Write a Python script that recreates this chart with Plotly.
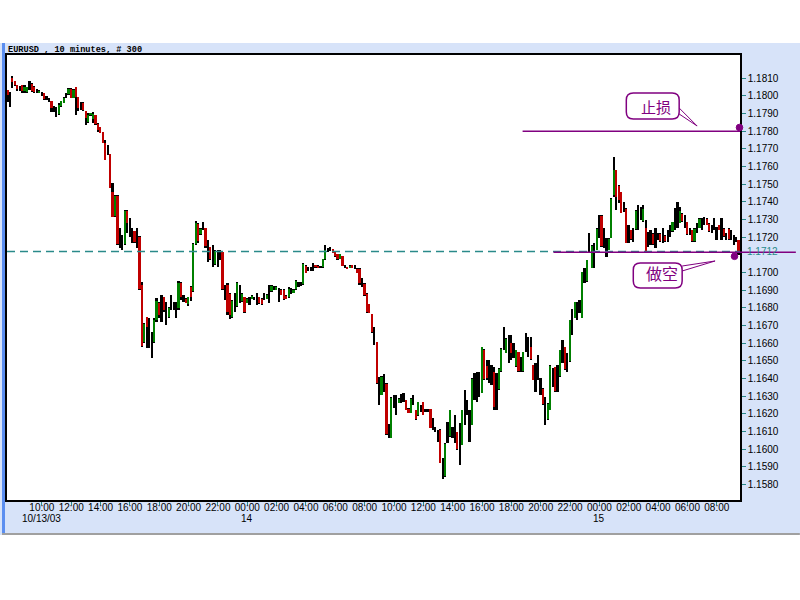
import plotly.graph_objects as go
import pandas as pd

# ---------------- data (EURUSD, 10-minute bars, 300 bars) ----------------
opens = [
    1.18034,1.17975,1.18100,1.18085,1.18060,1.18045,1.18060,1.18030,1.18020,1.18060,
    1.18070,1.18050,1.18025,1.18020,1.18010,1.18015,1.17990,1.17975,1.17974,1.17930,
    1.17900,1.17900,1.17945,1.17960,1.18000,1.18010,1.18040,1.17990,1.18050,1.17996,
    1.17940,1.17960,1.17917,1.17850,1.17890,1.17870,1.17890,1.17840,1.17825,1.17795,
    1.17732,1.17680,1.17670,1.17459,1.17320,1.17435,1.17180,1.17160,1.17160,1.17350,
    1.17250,1.17200,1.17235,1.17180,1.17204,1.16930,1.16610,1.16750,1.16650,1.16600,
    1.16610,1.16730,1.16830,1.16780,1.16860,1.16760,1.16750,1.16820,1.16810,1.16790,
    1.16800,1.16940,1.16855,1.16850,1.16820,1.16920,1.16895,1.17160,1.17275,1.17220,
    1.17260,1.17250,1.17120,1.17145,1.17090,1.17050,1.17080,1.17110,1.17115,1.16890,
    1.16930,1.16880,1.16750,1.16830,1.16810,1.16880,1.16840,1.16860,1.16830,1.16840,
    1.16850,1.16855,1.16850,1.16860,1.16850,1.16860,1.16850,1.16880,1.16895,1.16910,
    1.16903,1.16880,1.16903,1.16900,1.16870,1.16860,1.16890,1.16885,1.16905,1.16930,
    1.16935,1.16935,1.17040,1.17020,1.17025,1.17030,1.17042,1.17040,1.17030,1.17030,
    1.17075,1.17130,1.17135,1.17132,1.17120,1.17105,1.17078,1.17092,1.17035,1.17033,
    1.17026,1.17041,1.17030,1.17023,1.17020,1.16940,1.16937,1.16880,1.16820,1.16764,
    1.16640,1.16605,1.16320,1.16310,1.16370,1.16370,1.16100,1.16065,1.16270,1.16250,
    1.16262,1.16280,1.16290,1.16277,1.16230,1.16207,1.16280,1.16220,1.16193,1.16230,
    1.16268,1.16220,1.16220,1.16226,1.16140,1.16114,1.16070,1.16112,1.15890,1.15848,
    1.16090,1.16074,1.16090,1.16110,1.16098,1.16020,1.16027,1.16230,1.16240,1.16120,
    1.16140,1.16350,1.16350,1.16370,1.16320,1.16564,1.16470,1.16440,1.16420,1.16439,
    1.16300,1.16340,1.16442,1.16620,1.16546,1.16560,1.16600,1.16550,1.16470,1.16550,
    1.16480,1.16442,1.16600,1.16580,1.16580,1.16475,1.16400,1.16460,1.16350,1.16343,
    1.16200,1.16170,1.16225,1.16400,1.16465,1.16400,1.16414,1.16550,1.16578,1.16490,
    1.16500,1.16720,1.16744,1.16780,1.16810,1.16745,1.16980,1.16952,1.17160,1.17027,
    1.17090,1.17130,1.17260,1.17323,1.17190,1.17140,1.17130,1.17197,1.17440,1.17580,
    1.17490,1.17455,1.17370,1.17360,1.17210,1.17240,1.17210,1.17245,1.17300,1.17330,
    1.17292,1.17250,1.17180,1.17200,1.17220,1.17190,1.17200,1.17220,1.17200,1.17210,
    1.17210,1.17230,1.17235,1.17300,1.17330,1.17282,1.17334,1.17290,1.17287,1.17230,
    1.17240,1.17178,1.17250,1.17254,1.17270,1.17290,1.17305,1.17277,1.17250,1.17270,
    1.17220,1.17268,1.17240,1.17249,1.17200,1.17249,1.17210,1.17180,1.17190,1.17183,
]
highs = [
    1.18034,1.18025,1.18113,1.18087,1.18062,1.18057,1.18062,1.18062,1.18053,1.18087,
    1.18072,1.18057,1.18038,1.18034,1.18025,1.18015,1.18000,1.17987,1.17974,1.17944,
    1.17940,1.17959,1.17974,1.17996,1.18015,1.18044,1.18044,1.18038,1.18053,1.17996,
    1.17968,1.17968,1.17917,1.17902,1.17906,1.17912,1.17893,1.17845,1.17827,1.17798,
    1.17751,1.17723,1.17672,1.17506,1.17440,1.17440,1.17251,1.17213,1.17355,1.17355,
    1.17308,1.17251,1.17238,1.17251,1.17210,1.16949,1.16713,1.16751,1.16741,1.16666,
    1.16741,1.16854,1.16836,1.16873,1.16864,1.16836,1.16807,1.16873,1.16836,1.16836,
    1.16953,1.16949,1.16873,1.16854,1.16864,1.16924,1.17166,1.17294,1.17279,1.17251,
    1.17289,1.17251,1.17185,1.17147,1.17156,1.17128,1.17128,1.17128,1.17119,1.16930,
    1.16939,1.16883,1.16845,1.16883,1.16949,1.16930,1.16883,1.16864,1.16854,1.16864,
    1.16873,1.16864,1.16887,1.16864,1.16854,1.16883,1.16877,1.16930,1.16930,1.16924,
    1.16924,1.16911,1.16905,1.16905,1.16873,1.16917,1.16913,1.16905,1.16958,1.16947,
    1.16949,1.17053,1.17043,1.17030,1.17034,1.17053,1.17043,1.17043,1.17034,1.17077,
    1.17156,1.17138,1.17143,1.17134,1.17124,1.17106,1.17106,1.17094,1.17043,1.17034,
    1.17043,1.17043,1.17043,1.17024,1.17024,1.16968,1.16939,1.16883,1.16823,1.16766,
    1.16694,1.16609,1.16411,1.16415,1.16426,1.16373,1.16141,1.16298,1.16307,1.16307,
    1.16289,1.16313,1.16317,1.16279,1.16232,1.16289,1.16307,1.16222,1.16270,1.16251,
    1.16270,1.16228,1.16228,1.16228,1.16175,1.16128,1.16109,1.16115,1.15949,1.16034,
    1.16156,1.16222,1.16128,1.16194,1.16100,1.16147,1.16222,1.16336,1.16279,1.16222,
    1.16402,1.16430,1.16439,1.16439,1.16581,1.16566,1.16505,1.16505,1.16477,1.16468,
    1.16430,1.16458,1.16571,1.16694,1.16628,1.16647,1.16647,1.16600,1.16562,1.16553,
    1.16524,1.16553,1.16656,1.16637,1.16637,1.16477,1.16486,1.16534,1.16402,1.16345,
    1.16298,1.16260,1.16477,1.16458,1.16468,1.16477,1.16562,1.16619,1.16581,1.16543,
    1.16732,1.16792,1.16836,1.16836,1.16845,1.17006,1.17024,1.17072,1.17222,1.17156,
    1.17166,1.17251,1.17326,1.17326,1.17251,1.17194,1.17194,1.17421,1.17656,1.17581,
    1.17496,1.17458,1.17402,1.17364,1.17270,1.17242,1.17251,1.17355,1.17383,1.17373,
    1.17383,1.17298,1.17232,1.17242,1.17223,1.17251,1.17223,1.17223,1.17251,1.17213,
    1.17242,1.17270,1.17289,1.17364,1.17402,1.17373,1.17336,1.17326,1.17289,1.17251,
    1.17242,1.17251,1.17279,1.17307,1.17307,1.17317,1.17307,1.17279,1.17270,1.17307,
    1.17261,1.17270,1.17307,1.17251,1.17223,1.17251,1.17242,1.17213,1.17204,1.17185,
]
lows = [
    1.17968,1.17940,1.18044,1.18057,1.18030,1.18030,1.18019,1.18019,1.18015,1.18034,
    1.18025,1.18019,1.18015,1.18019,1.18000,1.17978,1.17978,1.17968,1.17912,1.17912,
    1.17879,1.17893,1.17940,1.17959,1.17987,1.18006,1.17987,1.17987,1.17893,1.17917,
    1.17921,1.17917,1.17836,1.17845,1.17887,1.17845,1.17836,1.17798,1.17789,1.17732,
    1.17638,1.17666,1.17477,1.17317,1.17317,1.17157,1.17138,1.17128,1.17157,1.17223,
    1.17204,1.17166,1.17170,1.17138,1.16902,1.16581,1.16600,1.16572,1.16572,1.16515,
    1.16600,1.16722,1.16741,1.16722,1.16779,1.16703,1.16741,1.16788,1.16788,1.16741,
    1.16788,1.16845,1.16836,1.16826,1.16811,1.16839,1.16892,1.17156,1.17166,1.17213,
    1.17241,1.17137,1.17062,1.17072,1.17034,1.17043,1.17034,1.17072,1.16902,1.16845,
    1.16760,1.16736,1.16741,1.16779,1.16807,1.16826,1.16836,1.16770,1.16826,1.16817,
    1.16849,1.16845,1.16817,1.16822,1.16817,1.16845,1.16849,1.16826,1.16892,1.16902,
    1.16902,1.16836,1.16873,1.16845,1.16849,1.16854,1.16879,1.16883,1.16902,1.16921,
    1.16924,1.16930,1.16996,1.17011,1.17011,1.17011,1.17028,1.17028,1.17028,1.17028,
    1.17072,1.17119,1.17124,1.17109,1.17090,1.17072,1.17075,1.17038,1.17028,1.17021,
    1.17024,1.17024,1.17019,1.16996,1.16930,1.16921,1.16870,1.16770,1.16770,1.16660,
    1.16590,1.16369,1.16251,1.16307,1.16326,1.16081,1.16062,1.16062,1.16232,1.16194,
    1.16260,1.16260,1.16270,1.16222,1.16204,1.16204,1.16251,1.16166,1.16191,1.16213,
    1.16194,1.16213,1.16213,1.16119,1.16109,1.16100,1.16043,1.15920,1.15830,1.15845,
    1.16034,1.16071,1.16062,1.16034,1.15996,1.15911,1.16024,1.16138,1.16194,1.16043,
    1.16138,1.16279,1.16270,1.16298,1.16320,1.16392,1.16392,1.16373,1.16364,1.16222,
    1.16222,1.16336,1.16439,1.16562,1.16543,1.16486,1.16505,1.16515,1.16468,1.16439,
    1.16439,1.16439,1.16553,1.16524,1.16505,1.16392,1.16326,1.16392,1.16307,1.16251,
    1.16137,1.16166,1.16222,1.16354,1.16326,1.16326,1.16411,1.16486,1.16449,1.16439,
    1.16496,1.16647,1.16741,1.16732,1.16770,1.16741,1.16939,1.16949,1.17109,1.17024,
    1.17024,1.17128,1.17194,1.17147,1.17138,1.17090,1.17128,1.17194,1.17430,1.17355,
    1.17392,1.17336,1.17345,1.17166,1.17166,1.17185,1.17175,1.17242,1.17242,1.17298,
    1.17289,1.17119,1.17147,1.17157,1.17157,1.17138,1.17185,1.17175,1.17166,1.17175,
    1.17175,1.17204,1.17232,1.17242,1.17251,1.17279,1.17289,1.17251,1.17213,1.17213,
    1.17175,1.17175,1.17223,1.17251,1.17242,1.17270,1.17270,1.17232,1.17223,1.17242,
    1.17185,1.17242,1.17185,1.17204,1.17185,1.17185,1.17185,1.17157,1.17175,1.17100,
]
closes = [
    1.18008,1.17975,1.18080,1.18060,1.18040,1.18045,1.18030,1.18050,1.18050,1.18060,
    1.18030,1.18020,1.18025,1.18030,1.18010,1.17985,1.17990,1.17975,1.17930,1.17930,
    1.17900,1.17950,1.17970,1.17990,1.18000,1.18040,1.17990,1.18035,1.17996,1.17930,
    1.17940,1.17920,1.17874,1.17895,1.17903,1.17900,1.17840,1.17805,1.17790,1.17735,
    1.17640,1.17680,1.17480,1.17317,1.17435,1.17160,1.17180,1.17160,1.17350,1.17280,
    1.17250,1.17200,1.17175,1.17180,1.16905,1.16585,1.16710,1.16694,1.16650,1.16600,
    1.16730,1.16840,1.16760,1.16780,1.16790,1.16760,1.16800,1.16820,1.16810,1.16790,
    1.16940,1.16860,1.16855,1.16830,1.16860,1.16860,1.17160,1.17280,1.17180,1.17245,
    1.17260,1.17150,1.17120,1.17080,1.17090,1.17120,1.17080,1.17110,1.16910,1.16890,
    1.16780,1.16760,1.16840,1.16830,1.16940,1.16880,1.16880,1.16780,1.16850,1.16840,
    1.16870,1.16855,1.16850,1.16830,1.16820,1.16860,1.16875,1.16880,1.16925,1.16910,
    1.16920,1.16880,1.16875,1.16850,1.16850,1.16910,1.16890,1.16903,1.16950,1.16930,
    1.16935,1.17050,1.17000,1.17020,1.17025,1.17030,1.17030,1.17030,1.17030,1.17075,
    1.17130,1.17130,1.17135,1.17110,1.17095,1.17075,1.17103,1.17040,1.17035,1.17023,
    1.17040,1.17026,1.17030,1.16998,1.16940,1.16940,1.16873,1.16775,1.16772,1.16663,
    1.16640,1.16375,1.16320,1.16410,1.16370,1.16085,1.16100,1.16290,1.16270,1.16250,
    1.16287,1.16280,1.16290,1.16225,1.16206,1.16285,1.16280,1.16170,1.16268,1.16230,
    1.16196,1.16220,1.16220,1.16122,1.16140,1.16114,1.16070,1.15923,1.15890,1.16030,
    1.16090,1.16220,1.16090,1.16110,1.16000,1.16020,1.16220,1.16230,1.16240,1.16120,
    1.16400,1.16350,1.16350,1.16370,1.16578,1.16400,1.16405,1.16440,1.16420,1.16240,
    1.16300,1.16455,1.16568,1.16620,1.16625,1.16560,1.16543,1.16550,1.16560,1.16442,
    1.16480,1.16550,1.16600,1.16580,1.16510,1.16395,1.16400,1.16460,1.16350,1.16254,
    1.16200,1.16257,1.16474,1.16400,1.16330,1.16400,1.16560,1.16550,1.16452,1.16490,
    1.16730,1.16720,1.16833,1.16780,1.16810,1.17003,1.16980,1.17070,1.17160,1.17153,
    1.17090,1.17248,1.17260,1.17150,1.17190,1.17140,1.17192,1.17418,1.17580,1.17430,
    1.17410,1.17340,1.17370,1.17170,1.17210,1.17188,1.17210,1.17350,1.17300,1.17330,
    1.17360,1.17122,1.17180,1.17200,1.17160,1.17190,1.17200,1.17180,1.17200,1.17180,
    1.17210,1.17230,1.17286,1.17300,1.17330,1.17350,1.17292,1.17290,1.17216,1.17230,
    1.17180,1.17248,1.17250,1.17304,1.17270,1.17290,1.17272,1.17234,1.17250,1.17270,
    1.17220,1.17244,1.17240,1.17206,1.17200,1.17188,1.17210,1.17180,1.17190,1.17120,
]
bar_times = pd.date_range("2003-10-13 07:40", periods=len(opens), freq="10min")

y_tick_values = [1.1580, 1.1590, 1.1600, 1.1610, 1.1620, 1.1630, 1.1640, 1.1650,
                 1.1660, 1.1670, 1.1680, 1.1690, 1.1700, 1.1720, 1.1730, 1.1740,
                 1.1750, 1.1760, 1.1770, 1.1780, 1.1790, 1.1800, 1.1810]
y_tick_labels = ["1.1580", "1.1590", "1.1600", "1.1610", "1.1620", "1.1630", "1.1640",
                 "1.1650", "1.1660", "1.1670", "1.1680", "1.1690", "1.1700", "1.1720",
                 "1.1730", "1.1740", "1.1750", "1.1760", "1.1770", "1.1780", "1.1790",
                 "1.1800", "1.1810"]
x_tick_times = pd.date_range("2003-10-13 10:00", "2003-10-15 08:00", freq="2h")
x_tick_labels = [t.strftime("%H:%M") for t in x_tick_times]
date_label_times = ["2003-10-13 10:00", "2003-10-14 00:00", "2003-10-15 00:00"]
date_labels = ["10/13/03", "14", "15"]

last_price = 1.1712
stop_price = 1.1780
short_price = 1.17115
title_text = "EURUSD , 10 minutes, # 300"
stop_text = "止损"
short_text = "做空"

# ---------------- styling ----------------
W, H = 800, 600
ML, MR, MT, MB = 5, 60, 55, 100
PW, PH = W - ML - MR, H - MT - MB
Y_RANGE = [1.15713, 1.18232]
step = pd.Timedelta(minutes=10)
X_RANGE = [bar_times[0] - 0.27 * step, bar_times[0] + 299.5 * step]

RED, GREEN, PURPLE, TEAL = "#c00000", "#008000", "#800080", "#2a8a8a"
CHECK = "#d7e3f9"


def px(x):
    return (x - ML) / PW


def py(y):
    return (H - MB - y) / PH


bar_w = 0.7 * 600000
body_base = [min(o, c) for o, c in zip(opens, closes)]
body_len = [abs(c - o) for o, c in zip(opens, closes)]
body_col = [GREEN if c > o else RED for o, c in zip(opens, closes)]

fig = go.Figure()
fig.add_trace(go.Bar(x=bar_times, y=[h - l for h, l in zip(highs, lows)], base=lows,
                     width=bar_w, marker=dict(color="black", line=dict(width=0)),
                     hoverinfo="skip"))
fig.add_trace(go.Bar(x=bar_times, y=body_len, base=body_base, width=bar_w,
                     marker=dict(color=body_col, line=dict(width=0)), hoverinfo="skip"))

shapes = []
# white areas above / below the chart window
shapes.append(dict(type="rect", xref="paper", yref="paper", x0=px(-5), x1=px(805),
                   y0=py(43), y1=py(-5), fillcolor="white", line_width=0, layer="below"))
shapes.append(dict(type="rect", xref="paper", yref="paper", x0=px(-5), x1=px(805),
                   y0=py(605), y1=py(535), fillcolor="white", line_width=0, layer="below"))
shapes.append(dict(type="line", xref="paper", yref="paper", x0=px(0), x1=px(800),
                   y0=py(534), y1=py(534), line=dict(color="#a0a0a0", width=2)))
shapes.append(dict(type="rect", xref="paper", yref="paper", x0=px(0), x1=px(3),
                   y0=py(533), y1=py(43), fillcolor="#5b8ef0", line_width=0))
# last price dashed line
shapes.append(dict(type="line", xref="paper", yref="y", x0=0, x1=1, y0=last_price,
                   y1=last_price, line=dict(color=TEAL, width=1.5, dash="8px,5px")))
# stop line and short line
shapes.append(dict(type="line", xref="paper", yref="y", x0=px(522), x1=1, y0=stop_price,
                   y1=stop_price, line=dict(color=PURPLE, width=1.5)))
shapes.append(dict(type="line", xref="paper", yref="y", x0=px(553), x1=px(796),
                   y0=short_price, y1=short_price, line=dict(color=PURPLE, width=1.5)))


def dot(cx, cy, r):
    return dict(type="circle", xref="paper", yref="paper", x0=px(cx - r), x1=px(cx + r),
                y0=py(cy + r), y1=py(cy - r), fillcolor=PURPLE, line=dict(color=PURPLE, width=1))


shapes.append(dot(739.5, 127.5, 3.3))
shapes.append(dot(734.5, 256.3, 3.3))


def rrect(x0, y0, x1, y1, r):
    pts = [("M", x0 + r, y0), ("L", x1 - r, y0), ("Q", x1, y0, x1, y0 + r),
           ("L", x1, y1 - r), ("Q", x1, y1, x1 - r, y1), ("L", x0 + r, y1),
           ("Q", x0, y1, x0, y1 - r), ("L", x0, y0 + r), ("Q", x0, y0, x0 + r, y0)]
    s = ""
    for p in pts:
        cmd, vals = p[0], p[1:]
        coords = []
        for i in range(0, len(vals), 2):
            coords.append(f"{px(vals[i]):.5f},{py(vals[i + 1]):.5f}")
        s += cmd + " " + " ".join(coords) + " "
    return s + "Z"


def poly(points):
    return "M " + " L ".join(f"{px(a):.5f},{py(b):.5f}" for a, b in points)


shapes.append(dict(type="path", xref="paper", yref="paper", path=rrect(626, 93, 679, 119, 7),
                   line=dict(color=PURPLE, width=1.5)))
shapes.append(dict(type="path", xref="paper", yref="paper",
                   path=poly([(679, 108), (697, 126), (679, 114)]),
                   line=dict(color=PURPLE, width=1)))
shapes.append(dict(type="path", xref="paper", yref="paper", path=rrect(633, 263, 682, 288, 7),
                   line=dict(color=PURPLE, width=1.5)))
shapes.append(dict(type="path", xref="paper", yref="paper",
                   path=poly([(682, 266), (715, 261), (682, 271)]),
                   line=dict(color=PURPLE, width=1)))

annotations = []
annotations.append(dict(text="<b>" + title_text + "</b>", xref="paper", yref="paper",
                        x=px(4), y=py(50.5), xanchor="left", yanchor="middle", showarrow=False,
                        font=dict(family="Liberation Mono", size=8.6, color="black")))
for t, lab in zip(date_label_times, date_labels):
    annotations.append(dict(text=lab, xref="x", yref="paper", x=t, y=py(518),
                            xanchor="center", yanchor="middle", showarrow=False,
                            font=dict(family="Liberation Sans", size=10, color="black")))
annotations.append(dict(text=f"{last_price:.4f}", xref="paper", yref="y", x=px(745),
                        y=last_price, xanchor="left", yanchor="middle", showarrow=False,
                        font=dict(family="Liberation Sans", size=10, color=TEAL)))
annotations.append(dict(text=stop_text, xref="paper", yref="paper", x=px(656), y=py(106.5),
                        xanchor="center", yanchor="middle", showarrow=False,
                        font=dict(family="Noto Sans CJK SC", size=15, color=PURPLE)))
annotations.append(dict(text=short_text, xref="paper", yref="paper", x=px(662), y=py(272.5),
                        xanchor="center", yanchor="middle", showarrow=False,
                        font=dict(family="Noto Sans CJK SC", size=16, color=PURPLE)))

fig.update_layout(
    width=W, height=H, margin=dict(l=ML, r=MR, t=MT, b=MB, pad=0),
    paper_bgcolor=CHECK, plot_bgcolor="white", showlegend=False,
    barmode="overlay", bargap=0, shapes=shapes, annotations=annotations,
    xaxis=dict(type="date", range=X_RANGE, tickvals=x_tick_times, ticktext=x_tick_labels,
               ticks="outside", ticklen=3, tickcolor=TEAL, tickwidth=1,
               ticklabelstandoff=-6,
               showline=True, linecolor="black", linewidth=1.5, mirror=True,
               showgrid=False, zeroline=False,
               tickfont=dict(family="Liberation Sans", size=10, color="black")),
    yaxis=dict(side="right", range=Y_RANGE, tickvals=y_tick_values, ticktext=y_tick_labels,
               ticks="outside", ticklen=4, tickcolor=TEAL, tickwidth=1,
               showline=True, linecolor="black", linewidth=1.5, mirror=True,
               showgrid=False, zeroline=False,
               tickfont=dict(family="Liberation Sans", size=10, color="black")),
)

fig.write_html("out.html", config={"displayModeBar": False},
               post_script="document.body.style.margin='0';document.body.style.overflow='hidden';")
